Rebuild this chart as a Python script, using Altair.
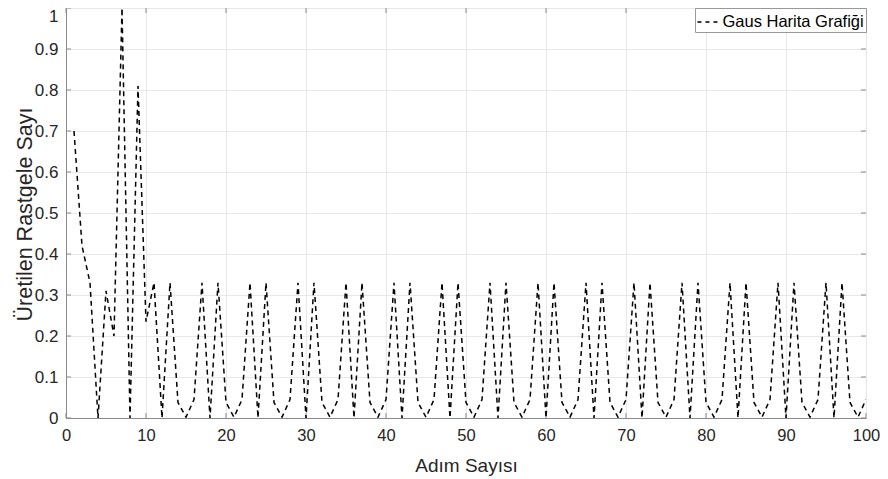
import altair as alt
import pandas as pd

steps = list(range(1, 101))
values = [
    0.70, 0.42, 0.33, 0.0, 0.31, 0.20, 1.00, 0.0, 0.81, 0.235, 0.33,
    0.0, 0.33, 0.038, 0.002, 0.045, 0.33,
    0.0, 0.33, 0.038, 0.002, 0.045, 0.33,
    0.0, 0.33, 0.038, 0.002, 0.045, 0.33,
    0.0, 0.33, 0.038, 0.002, 0.045, 0.33,
    0.0, 0.33, 0.038, 0.002, 0.045, 0.33,
    0.0, 0.33, 0.038, 0.002, 0.045, 0.33,
    0.0, 0.33, 0.038, 0.002, 0.045, 0.33,
    0.0, 0.33, 0.038, 0.002, 0.045, 0.33,
    0.0, 0.33, 0.038, 0.002, 0.045, 0.33,
    0.0, 0.33, 0.038, 0.002, 0.045, 0.33,
    0.0, 0.33, 0.038, 0.002, 0.045, 0.33,
    0.0, 0.33, 0.038, 0.002, 0.045, 0.33,
    0.0, 0.33, 0.038, 0.002, 0.045, 0.33,
    0.0, 0.33, 0.038, 0.002, 0.045, 0.33,
    0.0, 0.33, 0.038, 0.002, 0.045,
]
series_name = "Gaus Harita Grafiği"
x_ticks = [0, 10, 20, 30, 40, 50, 60, 70, 80, 90, 100]
y_ticks = [0, 0.1, 0.2, 0.3, 0.4, 0.5, 0.6, 0.7, 0.8, 0.9, 1]

df = pd.DataFrame({"step": steps, "value": values, "series": series_name})
xt = pd.DataFrame({"t": x_ticks})
yt = pd.DataFrame({"t": y_ticks})

FONT = "Liberation Sans"
TXT = "#262626"
AX = "#8a8a8a"

xscale = alt.Scale(domain=[0, 100], nice=False, zero=False)
yscale = alt.Scale(domain=[0, 1], nice=False)

line = alt.Chart(df).mark_line(strokeDash=[5, 4], strokeWidth=1.5, clip=True).encode(
    x=alt.X("step:Q", scale=xscale, title="Adım Sayısı",
            axis=alt.Axis(values=x_ticks, format="d", grid=True, gridColor="#e8e8e8",
                          domainColor=AX, ticks=False, labelPadding=9, labelFlush=False,
                          labelFontSize=16.5, labelColor=TXT, labelFont=FONT,
                          titleFontSize=19, titleFont=FONT, titleColor=TXT,
                          titleFontWeight="normal", titlePadding=13)),
    y=alt.Y("value:Q", scale=yscale, title="Üretilen Rastgele Sayı",
            axis=alt.Axis(values=y_ticks, format="~g", grid=True, gridColor="#e8e8e8",
                          domainColor=AX, ticks=False, labelPadding=8, labelFlush=False,
                          labelBaseline={"condition": {"test": "datum.value == 1", "value": "top"},
                                         "value": "middle"},
                          labelFontSize=17, labelColor=TXT, labelFont=FONT,
                          titleFontSize=21.5, titleFont=FONT, titleColor=TXT,
                          titleFontWeight="normal", titleX=-41, titleY=206,
                          titleBaseline="middle", titleAlign="center", titleAngle=270)),
    color=alt.Color("series:N", scale=alt.Scale(range=["black"]),
                    legend=alt.Legend(orient="top-right", offset=0, title=None,
                                      symbolType="stroke", symbolDash=[4, 4],
                                      symbolStrokeWidth=1.3, symbolSize=529,
                                      symbolStrokeColor="black",
                                      labelFontSize=16.5, labelFont=FONT, labelColor="black",
                                      strokeColor="#999999", fillColor="white",
                                      padding=1.5, symbolOffset=0, labelOffset=1)),
)

tick_len = 5
xb = alt.Chart(xt).mark_rule(color=AX, strokeWidth=1).encode(
    x=alt.X("t:Q", scale=xscale), y=alt.value(410), y2=alt.value(410 - tick_len))
xtop = alt.Chart(xt).mark_rule(color=AX, strokeWidth=1).encode(
    x=alt.X("t:Q", scale=xscale), y=alt.value(0), y2=alt.value(tick_len))
yl = alt.Chart(yt).mark_rule(color=AX, strokeWidth=1).encode(
    y=alt.Y("t:Q", scale=yscale), x=alt.value(0), x2=alt.value(tick_len))
yr = alt.Chart(yt).mark_rule(color=AX, strokeWidth=1).encode(
    y=alt.Y("t:Q", scale=yscale), x=alt.value(800), x2=alt.value(800 - tick_len))

chart = alt.layer(xb, xtop, yl, yr, line).properties(
    width=800, height=410,
    autosize=alt.AutoSizeParams(type="none"),
    padding={"left": 58, "top": 0, "right": 14, "bottom": 61},
).configure_view(stroke=AX, strokeWidth=1).configure(background="white")

chart.save("out.html", embed_options={"renderer": "svg", "actions": False})
